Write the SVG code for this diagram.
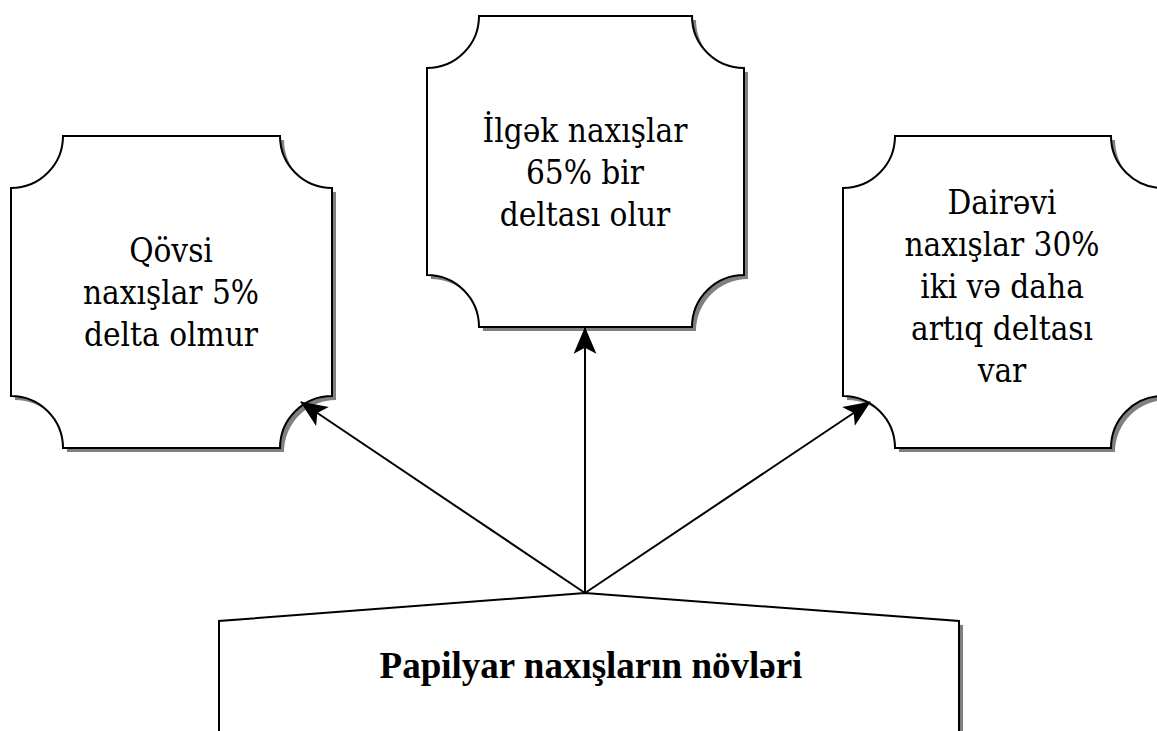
<svg xmlns="http://www.w3.org/2000/svg" width="1157" height="731" viewBox="0 0 1157 731">
  <defs>
    <style>
      .shadow { fill: #808080; stroke: none; }
      .box { fill: #ffffff; stroke: #000000; stroke-width: 2; }
      .lbl { font-family: "DejaVu Serif Condensed", "DejaVu Serif", serif; font-size: 33px; fill: #000000; text-anchor: middle; }
      .title { font-family: "Liberation Serif", "Times New Roman", serif; font-size: 37px; font-weight: bold; fill: #000000; text-anchor: middle; }
      .conn { stroke: #000000; stroke-width: 2; fill: none; marker-end: url(#arrow); }
    </style>
    <marker id="arrow" markerUnits="userSpaceOnUse" markerWidth="30" markerHeight="30" viewBox="-27 -14 29 28" refX="0" refY="0" orient="auto">
      <path d="M1,0 L-25,-11 L-19,0 L-25,11 Z" fill="#000000"/>
    </marker>
  </defs>
  <rect width="1157" height="731" fill="#ffffff"/>

  <g id="node-qovsi">
    <path class="shadow" transform="translate(4,4)" d="M63,136 H280 A52,52 0 0 0 332,188 V396 A52,52 0 0 0 280,448 H63 A52,52 0 0 0 11,396 V188 A52,52 0 0 0 63,136 Z"/>
    <path class="box" d="M63,136 H280 A52,52 0 0 0 332,188 V396 A52,52 0 0 0 280,448 H63 A52,52 0 0 0 11,396 V188 A52,52 0 0 0 63,136 Z"/>
    <text class="lbl" x="171" y="262">Qövsi</text>
    <text class="lbl" x="171" y="304">naxışlar 5%</text>
    <text class="lbl" x="171" y="346">delta olmur</text>
  </g>

  <g id="node-ilgek">
    <path class="shadow" transform="translate(4,4)" d="M479,16 H692 A52,52 0 0 0 744,68 V275 A52,52 0 0 0 692,327 H479 A52,52 0 0 0 427,275 V68 A52,52 0 0 0 479,16 Z"/>
    <path class="box" d="M479,16 H692 A52,52 0 0 0 744,68 V275 A52,52 0 0 0 692,327 H479 A52,52 0 0 0 427,275 V68 A52,52 0 0 0 479,16 Z"/>
    <text class="lbl" x="585" y="142">İlgək naxışlar</text>
    <text class="lbl" x="585" y="184">65% bir</text>
    <text class="lbl" x="585" y="226">deltası olur</text>
  </g>

  <g id="node-dairevi">
    <path class="shadow" transform="translate(4,4)" d="M895,136 H1111 A52,52 0 0 0 1163,188 V396 A52,52 0 0 0 1111,448 H895 A52,52 0 0 0 843,396 V188 A52,52 0 0 0 895,136 Z"/>
    <path class="box" d="M895,136 H1111 A52,52 0 0 0 1163,188 V396 A52,52 0 0 0 1111,448 H895 A52,52 0 0 0 843,396 V188 A52,52 0 0 0 895,136 Z"/>
    <text class="lbl" x="1002" y="214">Dairəvi</text>
    <text class="lbl" x="1002" y="256">naxışlar 30%</text>
    <text class="lbl" x="1002" y="298">iki və daha</text>
    <text class="lbl" x="1002" y="340">artıq deltası</text>
    <text class="lbl" x="1002" y="382">var</text>
  </g>

  <g id="node-papilyar">
    <path class="shadow" transform="translate(4,4)" d="M219,740 V621 L585,593 L959,621 V740 Z"/>
    <path class="box" d="M219,740 V621 L585,593 L959,621 V740 Z"/>
    <text class="title" x="591" y="678">Papilyar naxışların növləri</text>
  </g>

  <g id="connectors">
    <line class="conn" x1="585" y1="593" x2="301" y2="402"/>
    <line class="conn" x1="585" y1="593" x2="585" y2="328"/>
    <line class="conn" x1="585" y1="593" x2="870" y2="402"/>
  </g>
</svg>
